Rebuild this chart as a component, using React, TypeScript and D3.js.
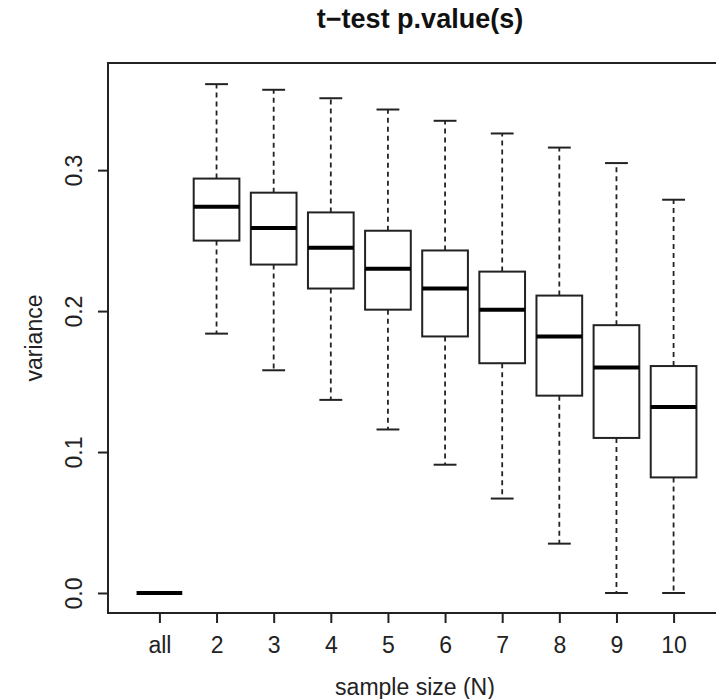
import React from 'react';
import * as d3 from 'd3';

const categories = ['all', '2', '3', '4', '5', '6', '7', '8', '9', '10'];
const whiskerLow = [0, 0.184, 0.158, 0.137, 0.116, 0.091, 0.067, 0.035, 0, 0];
const q1 = [0, 0.25, 0.233, 0.216, 0.201, 0.182, 0.163, 0.14, 0.11, 0.082];
const medians = [0, 0.274, 0.259, 0.245, 0.23, 0.216, 0.201, 0.182, 0.16, 0.132];
const q3 = [0, 0.294, 0.284, 0.27, 0.257, 0.243, 0.228, 0.211, 0.19, 0.161];
const whiskerHigh = [0, 0.361, 0.357, 0.351, 0.343, 0.335, 0.326, 0.316, 0.305, 0.279];
const yTicks = [0, 0.1, 0.2, 0.3];

const FONT = '"Liberation Sans", Arial, Helvetica, sans-serif';
const INK = '#222';

const App = () => {
  const ref = React.useRef<SVGSVGElement>(null);

  React.useEffect(() => {
    const svg = d3.select(ref.current);
    svg.selectAll('*').remove();

    const width = 716;
    const height = 699;
    const margin = { top: 63, right: -9, bottom: 86, left: 108 };

    const rows = categories.map((c, i) => ({
      name: c,
      pos: i + 1,
      lo: whiskerLow[i],
      q1: q1[i],
      med: medians[i],
      q3: q3[i],
      hi: whiskerHigh[i],
    }));

    // R style: range padded by 4% on both sides
    const xScale = d3.scaleLinear()
      .domain([0.1, 10.9])
      .range([margin.left, width - margin.right]);
    const yScale = d3.scaleLinear()
      .domain([-0.0142, 0.376])
      .range([height - margin.bottom, margin.top]);

    const boxW = xScale(1.8) - xScale(1);
    const capW = boxW / 2;

    const g = svg.append('g');

    const box = g.selectAll('g.box')
      .data(rows)
      .enter().append('g')
      .attr('class', 'box');

    // whiskers
    box.append('line')
      .attr('x1', d => xScale(d.pos)).attr('x2', d => xScale(d.pos))
      .attr('y1', d => yScale(d.q3)).attr('y2', d => yScale(d.hi))
      .attr('stroke', INK).attr('stroke-width', 1.8).attr('stroke-dasharray', '5,4');
    box.append('line')
      .attr('x1', d => xScale(d.pos)).attr('x2', d => xScale(d.pos))
      .attr('y1', d => yScale(d.q1)).attr('y2', d => yScale(d.lo))
      .attr('stroke', INK).attr('stroke-width', 1.8).attr('stroke-dasharray', '5,4');

    // caps
    box.append('line')
      .attr('x1', d => xScale(d.pos) - capW / 2).attr('x2', d => xScale(d.pos) + capW / 2)
      .attr('y1', d => yScale(d.hi)).attr('y2', d => yScale(d.hi))
      .attr('stroke', INK).attr('stroke-width', 2);
    box.append('line')
      .attr('x1', d => xScale(d.pos) - capW / 2).attr('x2', d => xScale(d.pos) + capW / 2)
      .attr('y1', d => yScale(d.lo)).attr('y2', d => yScale(d.lo))
      .attr('stroke', INK).attr('stroke-width', 2);

    // boxes
    box.append('rect')
      .attr('x', d => xScale(d.pos) - boxW / 2)
      .attr('width', boxW)
      .attr('y', d => yScale(d.q3))
      .attr('height', d => yScale(d.q1) - yScale(d.q3))
      .attr('fill', 'white')
      .attr('stroke', INK)
      .attr('stroke-width', 2);

    // medians
    box.append('line')
      .attr('x1', d => xScale(d.pos) - boxW / 2).attr('x2', d => xScale(d.pos) + boxW / 2)
      .attr('y1', d => yScale(d.med)).attr('y2', d => yScale(d.med))
      .attr('stroke', '#000').attr('stroke-width', 4);

    // frame
    g.append('rect')
      .attr('x', margin.left)
      .attr('y', margin.top)
      .attr('width', width - margin.right - margin.left)
      .attr('height', height - margin.bottom - margin.top)
      .attr('fill', 'none')
      .attr('stroke', INK)
      .attr('stroke-width', 2);

    // x axis
    const xAxis = g.append('g')
      .attr('transform', `translate(0,${height - margin.bottom})`)
      .call(d3.axisBottom(xScale)
        .tickValues(rows.map(d => d.pos))
        .tickFormat((d, i) => categories[i])
        .tickSize(10));
    xAxis.select('.domain').remove();
    xAxis.selectAll('line').attr('stroke', INK).attr('stroke-width', 2);
    xAxis.selectAll('text')
      .attr('y', 40).attr('dy', null)
      .attr('fill', INK)
      .style('font-family', FONT).style('font-size', '23px');

    // y axis
    const yAxis = g.append('g')
      .attr('transform', `translate(${margin.left},0)`)
      .call(d3.axisLeft(yScale)
        .tickValues(yTicks)
        .tickFormat(d3.format('.1f'))
        .tickSize(10));
    yAxis.select('.domain').remove();
    yAxis.selectAll('line').attr('stroke', INK).attr('stroke-width', 2);
    yAxis.selectAll('text')
      .attr('x', null).attr('dy', null)
      .attr('text-anchor', 'middle')
      .attr('transform', 'translate(-26,0) rotate(-90)')
      .attr('fill', INK)
      .style('font-family', FONT).style('font-size', '23px');

    // titles
    svg.append('text')
      .attr('x', 420).attr('y', 28)
      .attr('text-anchor', 'middle')
      .style('font-family', FONT).style('font-size', '27px').style('font-weight', 'bold')
      .attr('fill', '#111')
      .text('t\u2212test p.value(s)');

    svg.append('text')
      .attr('x', 415).attr('y', 695)
      .attr('text-anchor', 'middle')
      .style('font-family', FONT).style('font-size', '23px')
      .attr('fill', INK)
      .text('sample size (N)');

    svg.append('text')
      .attr('transform', `translate(42,${(margin.top + height - margin.bottom) / 2}) rotate(-90)`)
      .attr('text-anchor', 'middle')
      .style('font-family', FONT).style('font-size', '23px')
      .attr('fill', INK)
      .text('variance');
  }, []);

  return (
    <svg
      ref={ref}
      width="716"
      height="699"
      style={{ position: 'absolute', left: 0, top: 0, background: 'white' }}
    ></svg>
  );
};

export default App;
